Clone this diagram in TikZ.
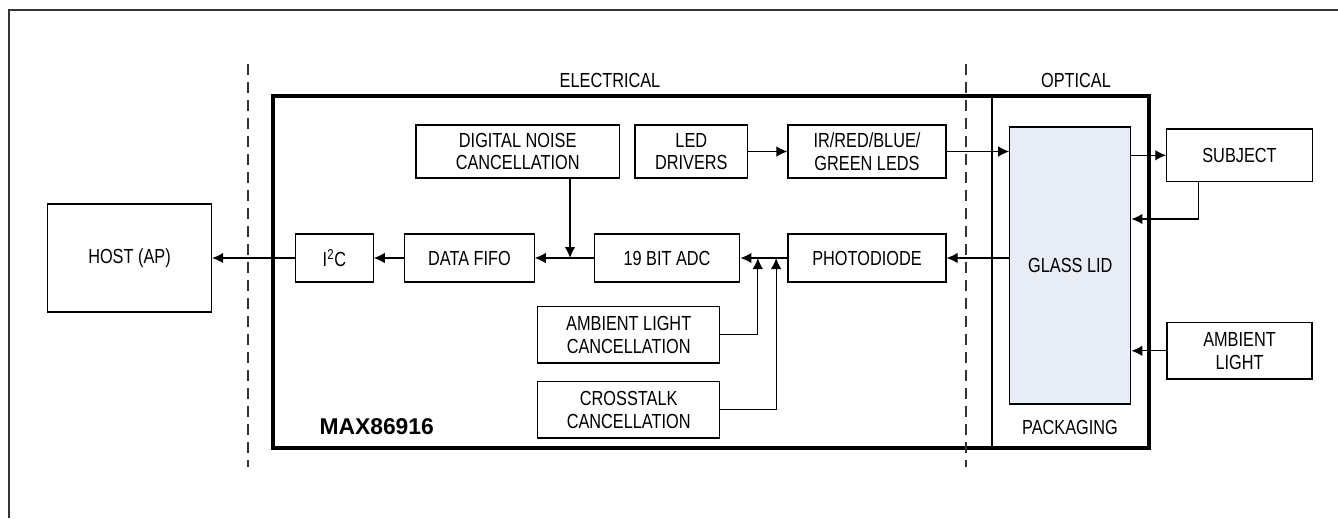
\documentclass[tikz,border=0pt]{standalone}
\usepackage{fontspec}
\setmainfont{Liberation Sans}[FakeStretch=0.8]
\newfontfamily\chipfont{Liberation Sans}
\usetikzlibrary{positioning}
\usetikzlibrary{calc}
\usetikzlibrary{arrows.meta}
\definecolor{lidFill}{RGB}{232,236,245}
\tikzset{
    objBlock/.style={rectangle, minimum height=0.96cm, text centered, align=center, draw=black, line width=0.7pt, inner sep=0pt, font=\fontsize{11.6pt}{12.9pt}\selectfont},
    objLid/.style={objBlock, fill=lidFill, minimum width=2.42cm, minimum height=5.54cm},
    objLabel/.style={font=\fontsize{11.6pt}{12.9pt}\selectfont},
    arrow/.style={line width=0.7pt, ->, >={Latex[length=2.2mm,width=2.1mm]}},
    zoneLine/.style={dash pattern=on 0.22cm off 0.14cm, line width=1pt, draw=black!80},
    chipLine/.style={line width=1.8pt}
}

\begin{document}
\begin{tikzpicture}[node distance=2cm]
  \useasboundingbox (0,0) rectangle (26.76,-10.36);
  \draw[line width=1.1pt, draw=black!80] (0.18,-10.36) -- (0.18,-0.2) -- (26.76,-0.2);

  % chip outline, optical part and zone borders
  \draw[chipLine] (5.46,-1.92) rectangle (22.98,-8.96);
  \draw[line width=0.7pt] (19.84,-1.92) -- (19.84,-8.96);
  \draw[zoneLine] (4.954,-1.28) -- (4.954,-9.34);
  \draw[zoneLine] (19.314,-1.28) -- (19.314,-9.34);

  \node (elec) [objLabel] at (12.2,-1.6) {ELECTRICAL};
  \node (opt) [objLabel] at (21.52,-1.6) {OPTICAL};
  \node (pkg) [objLabel] at (21.4,-8.54) {PACKAGING};
  \node (chip) [font={\chipfont\bfseries\fontsize{13pt}{15pt}\selectfont}] at (7.534,-8.534) {MAX86916};

  \node (pd) [objBlock, minimum width=3.16cm] at (17.34,-5.16) {PHOTODIODE};
  \node (adc) [objBlock, minimum width=2.914cm, left of=pd, xshift=-2cm] {19 BIT ADC};
  \node (fifo) [objBlock, minimum width=2.586cm, left of=adc, xshift=-1.95cm] {DATA FIFO};
  \node (i2c) [objBlock, minimum width=1.546cm, left of=fifo, xshift=-0.7cm] {I\textsuperscript{2}C};
  \node (host) [objBlock, minimum width=3.28cm, minimum height=2.16cm, left of=i2c, xshift=-2.1cm] {HOST (AP)};

  \node (leds) [objBlock, minimum width=3.16cm, minimum height=1.06cm, above of=pd, yshift=0.13cm] {IR/RED/BLUE/\\GREEN LEDS};
  \node (drv) [objBlock, minimum width=2.254cm, minimum height=1.06cm, left of=leds, xshift=-1.514cm] {LED\\DRIVERS};
  \node (dnc) [objBlock, minimum width=4.066cm, minimum height=1.06cm, left of=drv, xshift=-1.472cm] {DIGITAL NOISE\\CANCELLATION};

  \node (alc) [objBlock, minimum width=3.646cm, minimum height=1.134cm, below of=adc, xshift=-0.766cm, yshift=0.466cm] {AMBIENT LIGHT\\CANCELLATION};
  \node (xtalk) [objBlock, minimum width=3.646cm, minimum height=1.134cm, below of=alc, yshift=0.5cm] {CROSSTALK\\CANCELLATION};

  \node (lid) [objLid, right of=pd, xshift=2.066cm, yshift=-0.15cm] {GLASS LID};
  \node (subj) [objBlock, minimum width=2.906cm, minimum height=1.054cm, right of=lid, xshift=1.384cm, yshift=2.204cm] {SUBJECT};
  \node (amb) [objBlock, minimum width=2.9cm, minimum height=1.126cm, below of=subj, yshift=-1.91cm] {AMBIENT\\LIGHT};

  \coordinate (dncJoin) at ($(fifo.east)!0.6!(adc.west)$);
  \coordinate (alcJoin) at ($(adc.east)!0.37!(pd.west)$);
  \coordinate (xtalkJoin) at ($(adc.east)!0.76!(pd.west)$);

  \draw[arrow] (lid.west |- pd.east) -- (pd.east);
  \draw[arrow] (pd) -- (adc);
  \draw[arrow] (adc) -- (fifo);
  \draw[arrow] (fifo) -- (i2c);
  \draw[arrow] (i2c) -- (host);
  \draw[arrow] (dnc.south -| dncJoin) -- (dncJoin);
  \draw[arrow] (alc.east) -| (alcJoin);
  \draw[arrow] (xtalk.east) -| (xtalkJoin);

  \draw[arrow] (drv) -- (leds);
  \draw[arrow] (leds.east) -- (leds.east -| lid.west);
  \draw[arrow] (lid.east |- subj.west) -- (subj.west);
  \draw[arrow] ([xshift=0.64cm]subj.south west) |- ([yshift=0.93cm]lid.east);
  \draw[arrow] (amb.west) -- (amb.west -| lid.east);
\end{tikzpicture}
\end{document}
